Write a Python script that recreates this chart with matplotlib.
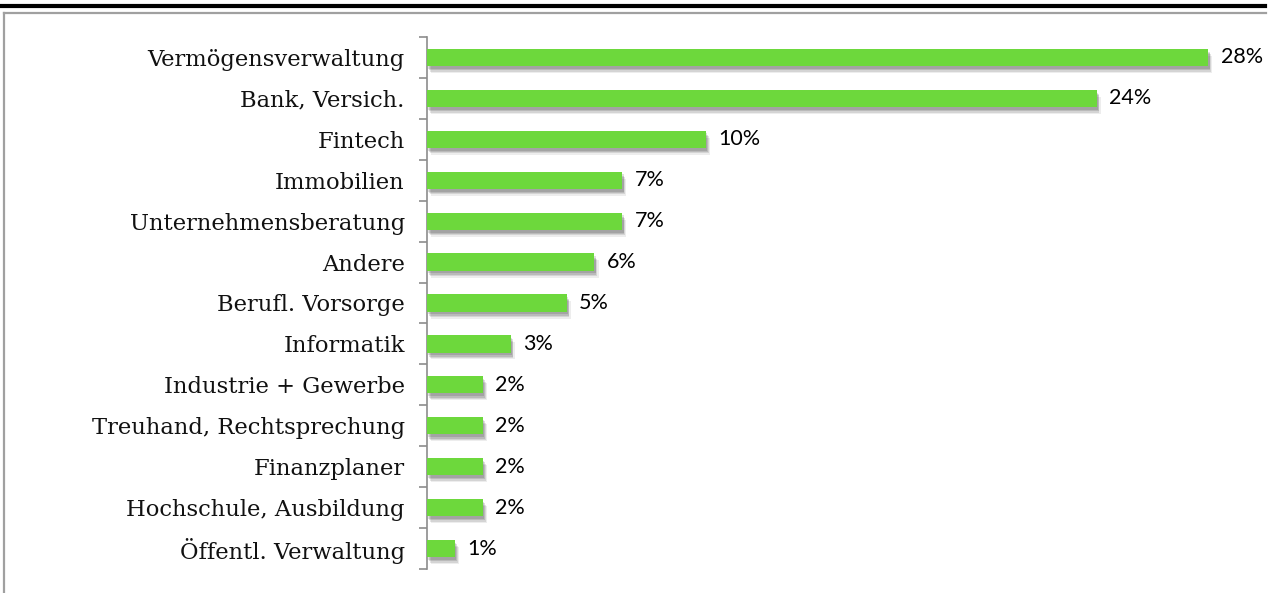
import matplotlib
matplotlib.use("Agg")
import matplotlib.pyplot as plt
import matplotlib.patheffects as pe
from matplotlib.lines import Line2D
import numpy as np

categories = ["Vermögensverwaltung", "Bank, Versich.", "Fintech", "Immobilien",
              "Unternehmensberatung", "Andere", "Berufl. Vorsorge", "Informatik",
              "Industrie + Gewerbe", "Treuhand, Rechtsprechung", "Finanzplaner",
              "Hochschule, Ausbildung", "Öffentl. Verwaltung"]
values = [28, 24, 10, 7, 7, 6, 5, 3, 2, 2, 2, 2, 1]
value_labels = ["28%", "24%", "10%", "7%", "7%", "6%", "5%", "3%", "2%", "2%", "2%", "2%", "1%"]

W, H = 1269, 593
fig = plt.figure(figsize=(W / 100, H / 100), dpi=100)
fig.patch.set_facecolor("white")

ax = fig.add_axes([427 / W, 1 - 569 / H, 837 / W, (569 - 37) / H])
y = np.arange(len(categories))
bars = ax.barh(y, values, height=0.42, color="#6dd83c", zorder=3)
for b in bars:
    b.set_path_effects([
        pe.SimplePatchShadow(offset=(3, -5), shadow_rgbFace="#000000", alpha=0.07),
        pe.SimplePatchShadow(offset=(2, -4), shadow_rgbFace="#000000", alpha=0.10),
        pe.SimplePatchShadow(offset=(1.5, -3), shadow_rgbFace="#000000", alpha=0.12),
        pe.SimplePatchShadow(offset=(1, -2), shadow_rgbFace="#000000", alpha=0.12),
        pe.Normal()])

ax.set_xlim(0, 30)
ax.set_ylim(len(categories) - 0.5, -0.5)

for yi, v, lab in zip(y, values, value_labels):
    ax.annotate(lab, (v, yi), xytext=(9, 0), textcoords="offset points",
                va="center", ha="left", fontsize=15.5, family="Lato", color="#000000")

ax.set_yticks(y)
ax.set_yticklabels(categories, family="DejaVu Serif", fontsize=16.3, color="#111111")
ax.tick_params(axis="y", which="major", length=0, pad=16)
ax.set_yticks(np.arange(-0.5, len(categories), 1.0), minor=True)
ax.tick_params(axis="y", which="minor", length=6, width=1.2, color="#8c8c8c", direction="out")
ax.set_xticks([])
for s in ["top", "right", "bottom"]:
    ax.spines[s].set_visible(False)
ax.spines["left"].set_color("#8c8c8c")
ax.spines["left"].set_linewidth(1.2)

# page decorations: black rule and grey frame
fig.add_artist(Line2D([0, 1265 / W], [1 - 5.5 / H, 1 - 5.5 / H], color="black", lw=3, transform=fig.transFigure))
fig.add_artist(Line2D([4 / W, 1266 / W], [1 - 12.5 / H, 1 - 12.5 / H], color="#a0a0a0", lw=1.6, transform=fig.transFigure))
fig.add_artist(Line2D([4 / W, 4 / W], [0, 1 - 12.5 / H], color="#a0a0a0", lw=1.6, transform=fig.transFigure))

fig.savefig("out.png", dpi=100)
